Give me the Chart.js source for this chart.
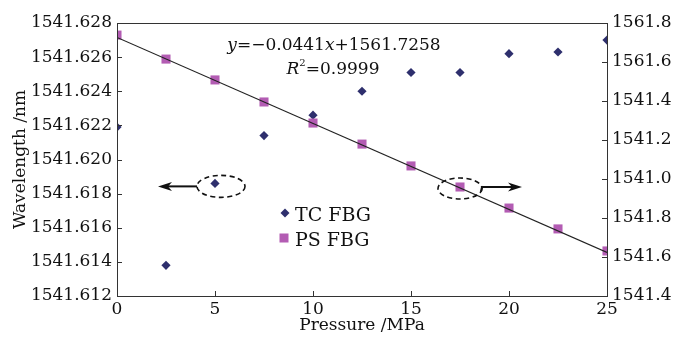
<!DOCTYPE html>
<html><head><meta charset="utf-8">
<script src="https://cdn.jsdelivr.net/npm/chart.js@4.4.0/dist/chart.umd.min.js"></script>
<style>html,body{margin:0;padding:0;background:#fff;}#wrap{width:677px;height:337px;}</style>
</head><body><div id="wrap"><canvas id="c" width="677" height="337"></canvas></div>
<script>
// ---- data ----
const pressure = [0, 2.5, 5, 7.5, 10, 12.5, 15, 17.5, 20, 22.5, 25];
const tcWavelength = [1541.6219, 1541.6138, 1541.6186, 1541.6214, 1541.6226, 1541.6240, 1541.6251, 1541.6251, 1541.6262, 1541.6263, 1541.6270];
const psWavelength = [1561.738, 1561.615, 1561.508, 1561.395, 1561.287, 1561.179, 1561.067, 1560.959, 1560.851, 1560.744, 1560.631];
const fitX = [0, 25];
const fitY = [1561.7258, 1560.6233];
const xTickValues = [0, 5, 10, 15, 20, 25];
const leftTickValues = [1541.612, 1541.614, 1541.616, 1541.618, 1541.620, 1541.622, 1541.624, 1541.626, 1541.628];
const rightTickValues = [1560.4, 1560.6, 1560.8, 1561.0, 1561.2, 1561.4, 1561.6, 1561.8];
const rightTickLabels = ['1541.4', '1541.6', '1541.8', '1541.0', '1541.2', '1541.4', '1561.6', '1561.8']; // bottom to top, as printed
const seriesNames = ['TC FBG', 'PS FBG'];
const equationText = ['y', '=\u22120.0441', 'x', '+1561.7258'];
const r2Text = '=0.9999';

const TC_COLOR = '#2e2f6d';
const PS_COLOR = '#b35cb3';
const INK = '#111';
const FONT = '"DejaVu Serif", "Liberation Serif", serif';

const annot = {
  id: 'annot',
  afterDraw(chart) {
    const ctx = chart.ctx;
    const a = chart.chartArea;
    const xs = chart.scales.x, yl = chart.scales.y, yr = chart.scales.y1;
    ctx.save();
    // frame
    ctx.strokeStyle = '#333';
    ctx.lineWidth = 1;
    ctx.strokeRect(Math.round(a.left) + 0.5, Math.round(a.top) + 0.5, Math.round(a.right - a.left), Math.round(a.bottom - a.top));
    // inward ticks
    ctx.beginPath();
    const TL = 5;
    xTickValues.forEach(v => { const px = Math.round(xs.getPixelForValue(v)) + 0.5; ctx.moveTo(px, a.bottom); ctx.lineTo(px, a.bottom - TL); });
    leftTickValues.forEach(v => { const py = Math.round(yl.getPixelForValue(v)) + 0.5; ctx.moveTo(a.left, py); ctx.lineTo(a.left + TL, py); });
    rightTickValues.forEach(v => { const py = Math.round(yr.getPixelForValue(v)) + 0.5; ctx.moveTo(a.right, py); ctx.lineTo(a.right - TL, py); });
    ctx.stroke();

    // equation
    ctx.fillStyle = INK;
    ctx.textBaseline = 'alphabetic';
    const fs = 17;
    const parts = equationText.map((t, i) => ({ t, it: (i === 0 || i === 2) }));
    let w = 0;
    parts.forEach(p => { ctx.font = (p.it ? 'italic ' : '') + fs + 'px ' + FONT; p.w = ctx.measureText(p.t).width; w += p.w; });
    let cx = 334 - w / 2;
    parts.forEach(p => { ctx.font = (p.it ? 'italic ' : '') + fs + 'px ' + FONT; ctx.fillText(p.t, cx, 50); cx += p.w; });
    ctx.font = 'italic ' + fs + 'px ' + FONT; const wR = ctx.measureText('R').width;
    ctx.font = '10px ' + FONT; const w2 = ctx.measureText('2').width;
    ctx.font = fs + 'px ' + FONT; const wr = ctx.measureText(r2Text).width;
    let rx = 333 - (wR + w2 + wr) / 2;
    ctx.font = 'italic ' + fs + 'px ' + FONT; ctx.fillText('R', rx, 74); rx += wR;
    ctx.font = '10px ' + FONT; ctx.fillText('2', rx, 66); rx += w2;
    ctx.font = fs + 'px ' + FONT; ctx.fillText(r2Text, rx, 74);

    // legend
    const lf = 19;
    ctx.font = lf + 'px ' + FONT;
    ctx.fillStyle = TC_COLOR;
    ctx.beginPath(); ctx.moveTo(285, 208.5); ctx.lineTo(289.5, 213); ctx.lineTo(285, 217.5); ctx.lineTo(280.5, 213); ctx.closePath(); ctx.fill();
    ctx.fillStyle = PS_COLOR;
    ctx.fillRect(279.5, 233.5, 9, 9);
    ctx.fillStyle = INK;
    ctx.fillText(seriesNames[0], 295, 221);
    ctx.fillText(seriesNames[1], 295, 246);

    // dashed ellipses + arrows
    ctx.strokeStyle = INK;
    ctx.lineWidth = 1.6;
    ctx.setLineDash([5, 3.5]);
    const p1x = xs.getPixelForValue(pressure[2]) + 6, p1y = yl.getPixelForValue(tcWavelength[2]) + 3;
    ctx.beginPath(); ctx.ellipse(p1x, p1y, 24, 11, 0, 0, Math.PI * 2); ctx.stroke();
    const p2x = xs.getPixelForValue(pressure[7]), p2y = yr.getPixelForValue(psWavelength[7]) + 1.5;
    ctx.beginPath(); ctx.ellipse(p2x, p2y, 22, 10.5, 0, 0, Math.PI * 2); ctx.stroke();
    ctx.setLineDash([]);
    ctx.lineWidth = 2;
    ctx.beginPath(); ctx.moveTo(p1x - 24, p1y); ctx.lineTo(166, p1y); ctx.stroke();
    ctx.fillStyle = INK;
    ctx.beginPath(); ctx.moveTo(158, p1y); ctx.lineTo(172, p1y - 4.5); ctx.lineTo(168, p1y); ctx.lineTo(172, p1y + 4.5); ctx.closePath(); ctx.fill();
    const ax = p2x + 22;
    ctx.beginPath(); ctx.moveTo(ax - 1, p2y + 3); ctx.lineTo(ax, p2y - 1.5); ctx.lineTo(512, p2y - 1.5); ctx.stroke();
    ctx.beginPath(); ctx.moveTo(522, p2y - 1.5); ctx.lineTo(508, p2y - 6); ctx.lineTo(512, p2y - 1.5); ctx.lineTo(508, p2y + 3); ctx.closePath(); ctx.fill();
    ctx.restore();
  }
};

const tickFont = { family: FONT, size: 17 };
new Chart(document.getElementById('c'), {
  type: 'scatter',
  data: {
    datasets: [
      { type: 'line', label: 'fit', data: fitX.map((x, i) => ({ x, y: fitY[i] })), yAxisID: 'y1', borderColor: '#222', borderWidth: 1.2, pointRadius: 0, order: 0 },
      { label: seriesNames[1], data: pressure.map((x, i) => ({ x, y: psWavelength[i] })), yAxisID: 'y1', pointStyle: 'rect', pointRadius: 6.4, pointHoverRadius: 6.4, backgroundColor: PS_COLOR, borderWidth: 0, order: 1 },
      { label: seriesNames[0], data: pressure.map((x, i) => ({ x, y: tcWavelength[i] })), yAxisID: 'y', pointStyle: 'rectRot', pointRadius: 4.6, pointHoverRadius: 4.6, backgroundColor: TC_COLOR, borderWidth: 0, order: 2 }
    ]
  },
  options: {
    responsive: false,
    animation: false,
    devicePixelRatio: 1,
    layout: { padding: { top: 23, left: 10, right: 0, bottom: 1 } },
    plugins: { legend: { display: false }, tooltip: { enabled: false } },
    scales: {
      x: {
        type: 'linear', min: 0, max: 25,
        afterBuildTicks: s => { s.ticks = xTickValues.map(v => ({ value: v })); },
        afterFit: s => { s.height = 40; },
        grid: { display: false, drawTicks: false }, border: { display: false },
        ticks: { font: tickFont, color: INK, padding: 3, maxRotation: 0 },
        title: { display: true, text: 'Pressure /MPa', font: { family: FONT, size: 17 }, color: INK, padding: 0 }
      },
      y: {
        type: 'linear', position: 'left', min: 1541.612, max: 1541.628,
        afterBuildTicks: s => { s.ticks = leftTickValues.map(v => ({ value: v })); },
        afterFit: s => { s.width = 107; },
        grid: { display: false, drawTicks: false }, border: { display: false },
        ticks: { font: tickFont, color: INK, padding: 5, callback: v => v.toFixed(3) },
        title: { display: true, text: 'Wavelength /nm', font: { family: FONT, size: 17 }, color: INK, padding: 0 }
      },
      y1: {
        type: 'linear', position: 'right', min: 1560.4, max: 1561.8,
        afterBuildTicks: s => { s.ticks = rightTickValues.map(v => ({ value: v })); },
        afterFit: s => { s.width = 70; },
        grid: { display: false, drawTicks: false }, border: { display: false },
        ticks: { font: tickFont, color: INK, padding: 5, callback: (v, i) => rightTickLabels[i] }
      }
    }
  },
  plugins: [annot]
});
</script></body></html>
